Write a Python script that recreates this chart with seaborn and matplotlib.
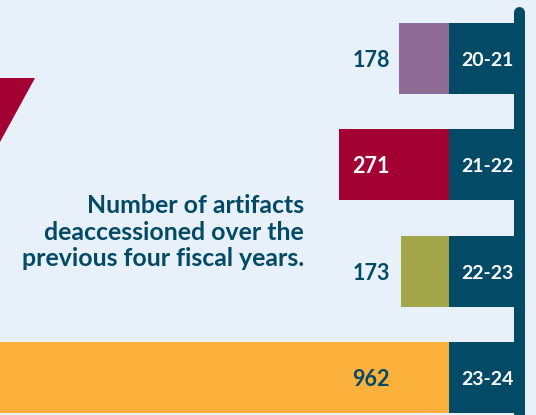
import numpy as np
import matplotlib
matplotlib.use("Agg")
import matplotlib.pyplot as plt
from matplotlib.lines import Line2D
from matplotlib.patches import Polygon
import matplotlib.transforms as mtransforms
import seaborn as sns

# ---- data ----
years = ["20-21", "21-22", "22-23", "23-24"]
artifacts = [178, 271, 173, 962]
title_lines = ["Number of artifacts", "deaccessioned over the", "previous four fiscal years."]

# ---- style ----
bar_colors = ["#8f6c97", "#a30034", "#a3a54b", "#fbb13c"]
value_text_colors = ["#024a65", "#ffffff", "#024a65", "#024a65"]
TEAL = "#024a65"
BG = "#e8f1f9"
CRIMSON = "#a30034"

W, H = 536, 415
sns.set_theme(style="white")
plt.rcParams["font.family"] = ["Lato", "DejaVu Sans"]

fig = plt.figure(figsize=(W / 100, H / 100), dpi=100, facecolor=BG)

# row geometry (pixels from top)
row0, step, bar_h = 58.5, 106.3, 71
y_top = -row0 / step
y_bot = (H - row0) / step
width = bar_h / step

# main bars (extend leftward from the year boxes)
ax = fig.add_axes([0, 0, 449 / W, 1])
ax.set_facecolor("none")
sns.barplot(x=artifacts, y=years, hue=years, palette=bar_colors, orient="h",
            width=width, legend=False, ax=ax, saturation=1, linewidth=0)
p = 1.85
ax.set_xscale("function", functions=(lambda x: np.sign(x) * np.abs(x) ** p,
                                     lambda x: np.sign(x) * np.abs(x) ** (1 / p)))
ax.set_xlim(580, 0)
ax.set_ylim(y_bot, y_top)
ax.axis("off")

num_font = ["Lato", "DejaVu Sans"]
blend = mtransforms.blended_transform_factory(ax.transAxes, ax.transData)
for i, (v, c) in enumerate(zip(artifacts, value_text_colors)):
    ax.text(390 / 449, i + 8.5 / step, str(v), transform=blend, ha="right", va="baseline",
            fontsize=15.5, fontweight="bold", color=c, family=num_font)

# year boxes
ax2 = fig.add_axes([449 / W, 0, (514 - 449) / W, 1])
ax2.set_facecolor("none")
sns.barplot(x=[1] * len(years), y=years, color=TEAL, orient="h", width=width,
            ax=ax2, saturation=1, linewidth=0)
ax2.set_xlim(0, 1)
ax2.set_ylim(y_bot, y_top)
ax2.axis("off")
for i, yr in enumerate(years):
    fig.text(487 / W, 1 - (row0 + i * step + 7.5) / H, yr, ha="center", va="baseline",
             fontsize=14, fontweight="bold", color="white", family=num_font)

# vertical rule
fig.add_artist(Line2D([519 / W, 519 / W], [1 - 12.5 / H, -0.05], color=TEAL, lw=11 * 0.72,
                      solid_capstyle="round", transform=fig.transFigure))

# decorative triangle
tri = [(0, 78), (35, 78), (0, 142)]
fig.add_artist(Polygon([(x / W, 1 - y / H) for x, y in tri], closed=True,
                       facecolor=CRIMSON, edgecolor="none", transform=fig.transFigure))

# caption
for k, line in enumerate(title_lines):
    fig.text(304 / W, 1 - (213 + k * 26.7) / H, line, ha="right", va="baseline",
             fontsize=17.9, fontweight="bold", color=TEAL)

fig.savefig("out.png", dpi=100, facecolor=BG)
